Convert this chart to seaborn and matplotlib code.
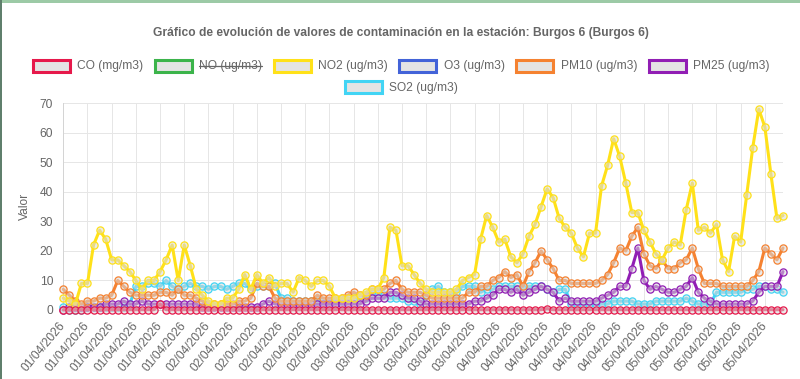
import matplotlib
matplotlib.use("Agg")
import matplotlib.pyplot as plt
import numpy as np
import pandas as pd
import seaborn as sns
from matplotlib.patches import Rectangle
from matplotlib.lines import Line2D

TITLE = "Gráfico de evolución de valores de contaminación en la estación: Burgos 6 (Burgos 6)"

series_names = ["CO (mg/m3)", "NO (ug/m3)", "NO2 (ug/m3)", "O3 (ug/m3)",
                "PM10 (ug/m3)", "PM25 (ug/m3)", "SO2 (ug/m3)"]
series_colors = ["#e6194b", "#3cb44b", "#ffe119", "#4363d8",
                 "#f58231", "#911eb4", "#42d4f4"]
hidden = ["NO (ug/m3)"]

# hourly readings from 01/04/2026 00:00 to 05/04/2026 23:00
co = [0.1, 0.1, 0.1, 0.1, 0.1, 0.1, 0.1, 0.1, 0.1, 0.1, 0.1, 0.1, 0.1, 0.1, 0.1, 0.1, 2.0, 0.1, 0.1, 0.1,
      0.1, 0.1, 0.1, 0.1, 0.1, 0.1, 0.1, 0.1, 0.1, 0.1, 0.1, 0.1, 0.1, 0.1, 0.1, 0.1, 0.1, 0.1, 0.1, 0.1,
      0.1, 0.1, 0.1, 0.1, 0.1, 0.1, 0.1, 0.1, 0.1, 0.1, 0.1, 0.1, 0.1, 0.1, 0.1, 0.1, 0.1, 0.1, 0.1, 0.1,
      0.1, 0.1, 0.1, 0.1, 0.1, 0.1, 0.1, 0.1, 0.1, 0.1, 0.1, 0.1, 0.1, 0.1, 0.1, 0.1, 0.1, 0.1, 0.1, 0.1,
      0.5, 0.1, 0.1, 0.1, 0.1, 0.1, 0.1, 0.1, 0.1, 0.1, 0.1, 0.1, 0.1, 0.1, 0.1, 0.1, 0.1, 0.1, 0.1, 0.1,
      0.1, 0.1, 0.1, 0.1, 0.1, 0.1, 0.1, 0.1, 0.1, 0.1, 0.1, 0.1, 0.1, 0.1, 0.1, 0.1, 0.1, 0.1, 0.1, 0.1]
no2 = [4, 3, 2, 9, 9, 22, 27, 24, 17, 17, 15, 13, 10, 7, 10, 10, 13, 17, 22, 10,
       22, 15, 7, 5, 3, 2, 2, 4, 4, 7, 12, 7, 12, 9, 11, 8, 9, 9, 6, 11,
       10, 8, 10, 10, 8, 4, 4, 4, 4, 5, 6, 7, 7, 11, 28, 27, 15, 15, 12, 9,
       7, 6, 6, 6, 6, 7, 10, 11, 12, 24, 32, 28, 23, 24, 18, 16, 19, 25, 29, 35,
       41, 38, 31, 28, 26, 21, 18, 26, 26, 42, 49, 58, 52, 43, 33, 33, 27, 23, 19, 17,
       21, 23, 22, 34, 43, 27, 28, 26, 29, 17, 13, 25, 23, 39, 55, 68, 62, 46, 31, 32]
o3 = []  # no readings for O3 in this period
pm10 = [7, 5, 3, 2, 3, 3, 4, 4, 5, 10, 8, 6, 5, 5, 5, 5, 6, 6, 5, 7,
        5, 5, 4, 3, 2, 2, 2, 2, 2, 3, 3, 4, 9, 8, 8, 4, 3, 3, 3, 3,
        3, 3, 5, 4, 4, 4, 4, 5, 6, 5, 5, 7, 7, 7, 9, 10, 7, 6, 6, 6,
        5, 4, 4, 4, 4, 4, 4, 6, 6, 8, 8, 10, 11, 13, 11, 12, 8, 13, 16, 20,
        17, 14, 10, 10, 9, 9, 9, 9, 9, 10, 12, 16, 21, 20, 25, 28, 19, 15, 14, 17,
        14, 14, 16, 17, 21, 14, 9, 9, 9, 8, 8, 8, 8, 8, 10, 13, 21, 19, 17, 21]
pm25 = [0, 1, 1, 1, 1, 1, 1, 2, 2, 2, 3, 2, 2, 3, 2, 2, 2, 2, 2, 2,
        2, 2, 2, 1, 1, 1, 1, 1, 1, 1, 1, 1, 1, 2, 3, 2, 2, 2, 2, 2,
        2, 2, 2, 2, 2, 2, 2, 2, 2, 2, 3, 4, 4, 4, 6, 6, 5, 4, 4, 3,
        2, 2, 2, 2, 2, 2, 2, 2, 3, 3, 4, 5, 7, 7, 6, 7, 5, 6, 7, 8,
        7, 6, 3, 4, 3, 3, 3, 3, 3, 4, 5, 6, 8, 8, 14, 21, 10, 7, 8, 7,
        6, 6, 7, 8, 11, 6, 4, 3, 2, 2, 2, 2, 2, 2, 3, 6, 8, 8, 8, 13]
so2 = [1, 0, 0, 0, 1, 1, 1, 1, 1, 1, 1, 2, 8, 8, 9, 9, 8, 10, 8, 7,
       8, 9, 8, 8, 7, 8, 8, 7, 8, 9, 9, 7, 8, 8, 8, 9, 4, 4, 3, 3,
       3, 3, 3, 3, 3, 3, 3, 4, 4, 4, 4, 5, 5, 5, 4, 4, 4, 3, 3, 2,
       5, 7, 8, 6, 6, 6, 8, 8, 8, 6, 7, 7, 8, 8, 8, 8, 7, 8, 8, 8,
       7, 6, 7, 7, 2, 2, 2, 2, 2, 2, 2, 3, 3, 3, 3, 2, 2, 2, 3, 3,
       3, 3, 3, 4, 3, 2, 2, 2, 6, 6, 6, 6, 6, 7, 7, 8, 8, 7, 7, 6]

W, H = 800, 379
GRID = "#e6e6e6"
TEXT = "#666666"
FS = 12 * 0.72  # 12px text


def fx(x):
    return x / W


def fy(y):
    return 1 - y / H


sns.set_style("white")
plt.rcParams["font.family"] = ["Liberation Sans", "DejaVu Sans"]

hours = pd.date_range("2026-04-01 00:00", periods=len(no2), freq="h")
df = pd.DataFrame({"idx": np.arange(len(hours)), "hora": hours})
values = {"CO (mg/m3)": co, "NO2 (ug/m3)": no2, "PM10 (ug/m3)": pm10,
          "PM25 (ug/m3)": pm25, "SO2 (ug/m3)": so2}
for name, vals in values.items():
    df[name] = vals
long_df = df.melt(id_vars=["idx", "hora"], value_vars=list(values),
                  var_name="serie", value_name="valor")

fig = plt.figure(figsize=(W / 100, H / 100), dpi=100)
ax = fig.add_axes([fx(63.3), fy(310), fx(783 - 63.3), (310 - 103.3) / H])

# first dataset ends up on top, as in the web chart
draw_order = ["SO2 (ug/m3)", "PM25 (ug/m3)", "PM10 (ug/m3)", "NO2 (ug/m3)", "CO (mg/m3)"]
for z, name in enumerate(draw_order):
    col = series_colors[series_names.index(name)]
    sub = long_df[long_df["serie"] == name]
    sns.lineplot(data=sub, x="idx", y="valor", ax=ax, color=col, lw=2.2,
                 estimator=None, sort=False, marker="o", markersize=5.2,
                 markerfacecolor=(0.85, 0.85, 0.85, 0.55), markeredgecolor=col,
                 markeredgewidth=0.9, clip_on=False, zorder=3 + z)

ax.set_xlim(0, len(hours) - 1)
ax.set_ylim(0, 70)
ax.set_yticks(range(0, 71, 10))
tick_pos = list(range(0, len(hours), 4))
ax.set_xticks(tick_pos)
ax.set_xticklabels([hours[i].strftime("%d/%m/%Y") for i in tick_pos],
                   rotation=50, ha="right", va="center", rotation_mode="anchor")
ax.tick_params(axis="x", length=5.8, width=0.72, color=GRID, pad=4,
               labelsize=FS, labelcolor=TEXT)
ax.tick_params(axis="y", length=5.8, width=0.72, color=GRID, pad=1.5,
               labelsize=FS, labelcolor=TEXT)
ax.grid(True, color=GRID, lw=0.72)
ax.set_axisbelow(True)
for side in ["top", "right"]:
    ax.spines[side].set_visible(False)
for side in ["left", "bottom"]:
    ax.spines[side].set_color("#d4d4d4")
    ax.spines[side].set_linewidth(0.72)
ax.set_xlabel("")
ax.set_ylabel("")
fig.text(fx(25), fy(206), "Valor", rotation=90, ha="center", va="center",
         fontsize=FS, color=TEXT)

fig.text(fx(401), fy(33), TITLE, ha="center", va="center", fontsize=FS,
         fontweight="bold", color=TEXT)

# legend, laid out like the chart.js one: centred rows
renderer = fig.canvas.get_renderer()
rows = [(series_names[:6], 65.5), (series_names[6:], 87.3)]
for names, yc in rows:
    texts = []
    widths = []
    for name in names:
        t = fig.text(0, fy(yc + 0.5), name, ha="left", va="center",
                     fontsize=FS, color=TEXT)
        texts.append(t)
        widths.append(t.get_window_extent(renderer).width)
    item_w = [40 + 6 + w for w in widths]
    total = sum(item_w) + 10 * (len(names) - 1)
    x = 400.5 - total / 2
    for name, t, w, iw in zip(names, texts, widths, item_w):
        col = series_colors[series_names.index(name)]
        fig.patches.append(Rectangle((fx(x + 1.5), fy(yc + 6)), 37 / W, 12 / H,
                                     transform=fig.transFigure, facecolor="#e4e4e4",
                                     edgecolor=col, lw=2.2))
        t.set_x(fx(x + 46))
        if name in hidden:
            fig.lines.append(Line2D([fx(x + 46), fx(x + 46 + w)],
                                    [fy(yc + 0.5), fy(yc + 0.5)],
                                    transform=fig.transFigure, color=TEXT, lw=0.9))
        x += iw + 10

# page frame bits visible in the screenshot
fig.patches.append(Rectangle((0, fy(3)), 1, 3 / H, transform=fig.transFigure,
                             facecolor="#9ccaa6", edgecolor="none"))
fig.patches.append(Rectangle((0, 0), 2 / W, 1, transform=fig.transFigure,
                             facecolor="#5f7f6c", edgecolor="none"))

fig.savefig("out.png", dpi=100)
